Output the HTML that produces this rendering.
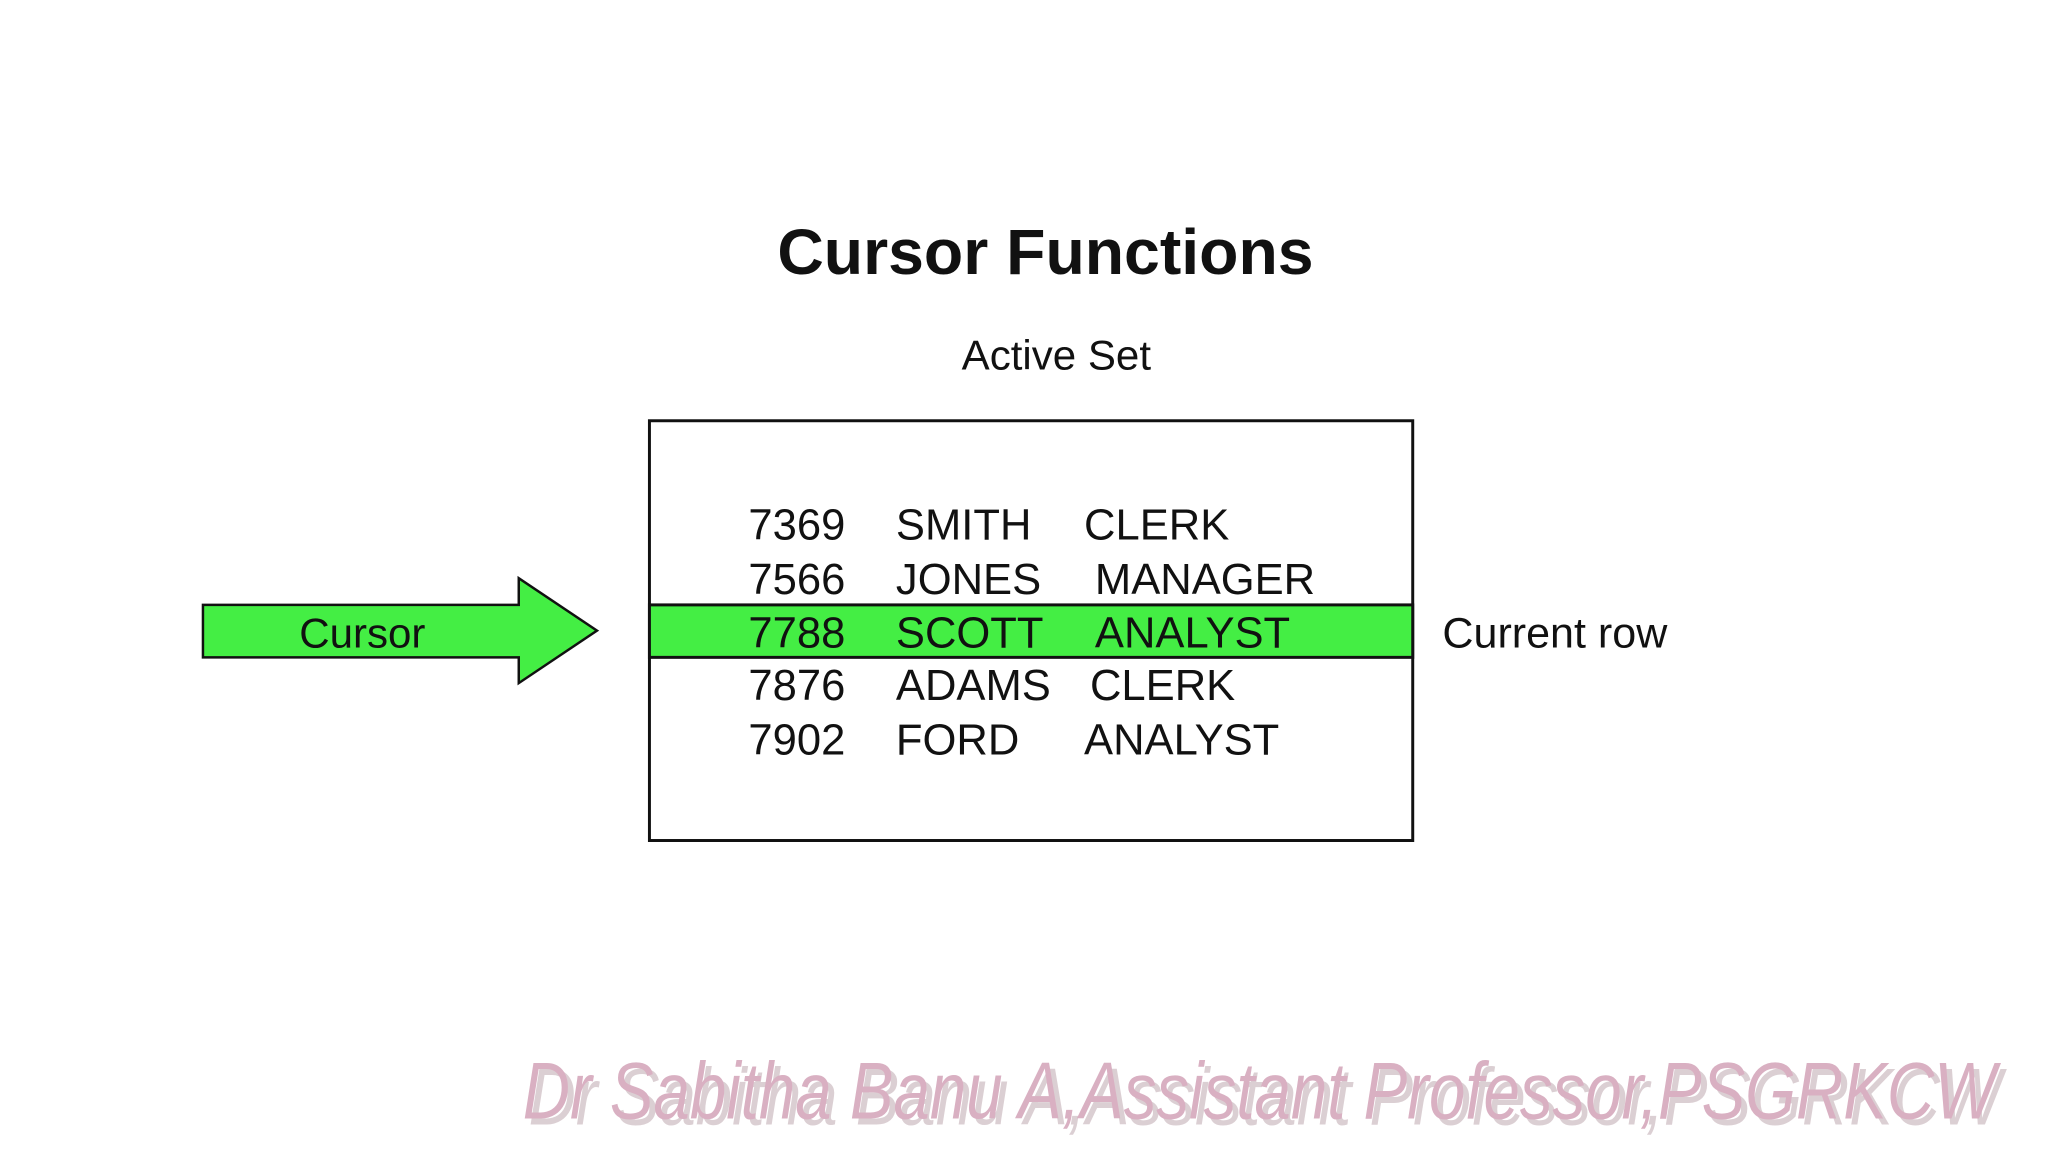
<!DOCTYPE html>
<html><head><meta charset="utf-8"><style>
html,body{margin:0;padding:0;background:#fff;}
svg{display:block;}
text{font-family:"Liberation Sans",sans-serif;fill:#111;}
</style></head><body>
<svg width="2048" height="1152" viewBox="0 0 2048 1152" xmlns="http://www.w3.org/2000/svg">
<rect width="2048" height="1152" fill="#fff"/>
<g transform="scale(0.99)">
<text x="1056" y="277" font-size="65" font-weight="bold" text-anchor="middle">Cursor Functions</text>
<text x="1067" y="373" font-size="42.5" text-anchor="middle">Active Set</text>
<rect x="656" y="425" width="771" height="424" fill="#fff" stroke="#111" stroke-width="3"/>
<rect x="656" y="611" width="771" height="53" fill="#44ee44" stroke="#111" stroke-width="3"/>
<polygon points="205,611 524,611 524,584 603,637 524,690 524,664 205,664" fill="#44ee44" stroke="#111" stroke-width="2.5"/>
<text x="366" y="654" font-size="42.5" text-anchor="middle">Cursor</text>
<text x="1457" y="654" font-size="43.5">Current row</text>
<g font-size="44">
<text x="756" y="545">7369</text><text x="905" y="545">SMITH</text><text x="1095" y="545">CLERK</text>
<text x="756" y="600">7566</text><text x="905" y="600">JONES</text><text x="1106" y="600">MANAGER</text>
<text x="756" y="654">7788</text><text x="905" y="654">SCOTT</text><text x="1106" y="654">ANALYST</text>
<text x="756" y="707">7876</text><text x="905" y="707">ADAMS</text><text x="1101" y="707">CLERK</text>
<text x="756" y="762">7902</text><text x="905" y="762">FORD</text><text x="1095" y="762">ANALYST</text>
</g>
<text x="534" y="1136" font-family="'Liberation Serif',serif" font-style="italic" font-size="82" opacity="0.5" textLength="1488" lengthAdjust="spacingAndGlyphs" style="fill:#b9a0a8">Dr Sabitha Banu A,Assistant Professor,PSGRKCW</text>
<text x="528" y="1130" font-family="'Liberation Serif',serif" font-style="italic" font-size="82" textLength="1488" lengthAdjust="spacingAndGlyphs" style="fill:#d9b0c2">Dr Sabitha Banu A,Assistant Professor,PSGRKCW</text>
</g>
</svg>
</body></html>
